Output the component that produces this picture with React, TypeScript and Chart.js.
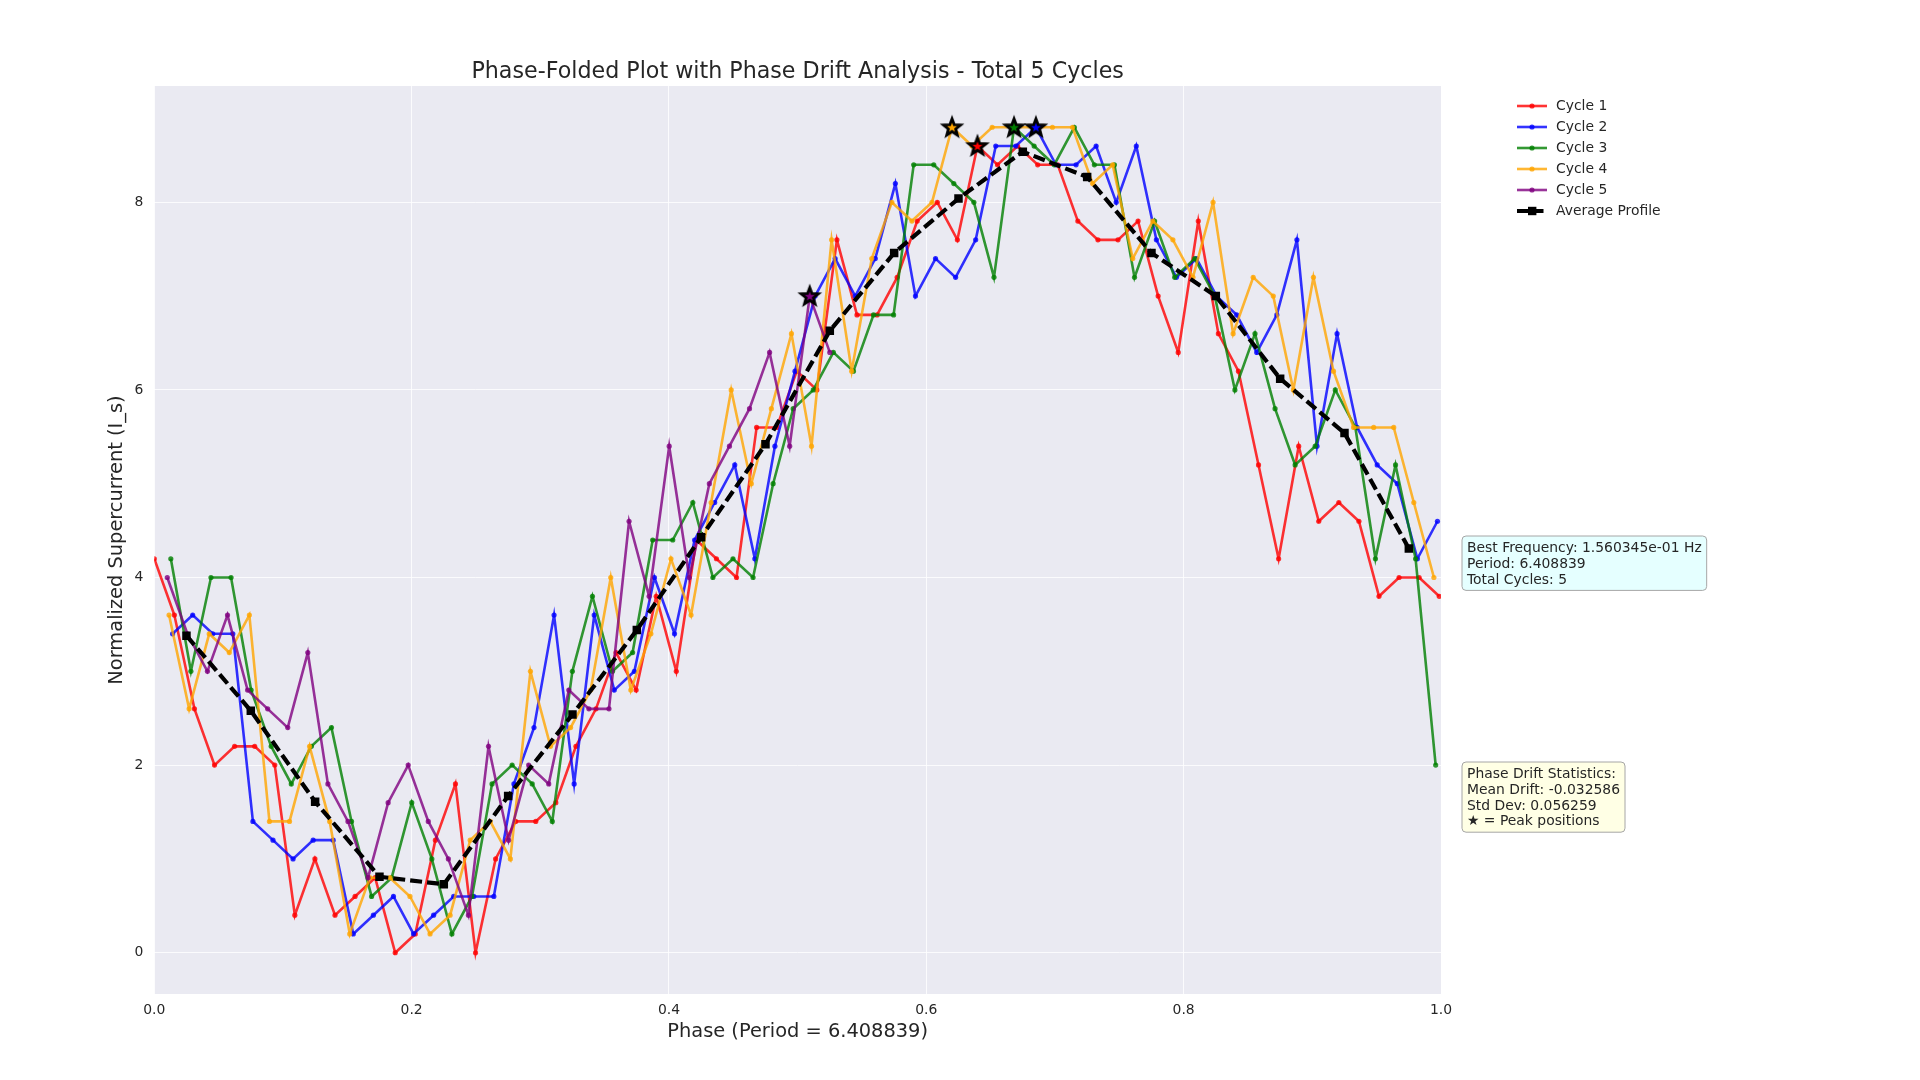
import React, { useEffect, useRef } from 'react';
import Chart from 'chart.js/auto';

// sampling of the raw signal; the chart folds it by the best period
const PERIOD = 6.408839;
const SAMPLE_DT = 0.1;
const cycleStartIndex = [0, 65, 129, 193, 257];

const cycle1 = [
  4.2, 3.6, 2.6, 2.0, 2.2, 2.2, 2.0, 0.4, 1.0, 0.4,
  0.6, 0.8, 0.0, 0.2, 1.2, 1.8, 0.0, 1.0, 1.4, 1.4,
  1.6, 2.2, 2.6, 3.2, 2.8, 3.8, 3.0, 4.4, 4.2, 4.0,
  5.6, 5.6, 6.2, 6.0, 7.6, 6.8, 6.8, 7.2, 7.8, 8.0,
  7.6, 8.6, 8.4, 8.6, 8.4, 8.4, 7.8, 7.6, 7.6, 7.8,
  7.0, 6.4, 7.8, 6.6, 6.2, 5.2, 4.2, 5.4, 4.6, 4.8,
  4.6, 3.8, 4.0, 4.0, 3.8,
];
const cycle2 = [
  3.4, 3.6, 3.4, 3.4, 1.4, 1.2, 1.0, 1.2, 1.2, 0.2,
  0.4, 0.6, 0.2, 0.4, 0.6, 0.6, 0.6, 1.8, 2.4, 3.6,
  1.8, 3.6, 2.8, 3.0, 4.0, 3.4, 4.4, 4.8, 5.2, 4.2,
  5.4, 6.2, 7.0, 7.4, 7.0, 7.4, 8.2, 7.0, 7.4, 7.2,
  7.6, 8.6, 8.6, 8.8, 8.4, 8.4, 8.6, 8.0, 8.6, 7.6,
  7.2, 7.4, 7.0, 6.8, 6.4, 6.8, 7.6, 5.4, 6.6, 5.6,
  5.2, 5.0, 4.2, 4.6,
];
const cycle3 = [
  4.2, 3.0, 4.0, 4.0, 2.8, 2.2, 1.8, 2.2, 2.4, 1.4,
  0.6, 0.8, 1.6, 1.0, 0.2, 0.6, 1.8, 2.0, 1.8, 1.4,
  3.0, 3.8, 3.0, 3.2, 4.4, 4.4, 4.8, 4.0, 4.2, 4.0,
  5.0, 5.8, 6.0, 6.4, 6.2, 6.8, 6.8, 8.4, 8.4, 8.2,
  8.0, 7.2, 8.8, 8.6, 8.4, 8.8, 8.4, 8.4, 7.2, 7.8,
  7.2, 7.4, 7.0, 6.0, 6.6, 5.8, 5.2, 5.4, 6.0, 5.6,
  4.2, 5.2, 4.2, 2.0,
];
const cycle4 = [
  3.6, 2.6, 3.4, 3.2, 3.6, 1.4, 1.4, 2.2, 1.4, 0.2,
  0.8, 0.8, 0.6, 0.2, 0.4, 1.2, 1.4, 1.0, 3.0, 2.2,
  2.4, 2.8, 4.0, 2.8, 3.4, 4.2, 3.6, 4.8, 6.0, 5.0,
  5.8, 6.6, 5.4, 7.6, 6.2, 7.4, 8.0, 7.8, 8.0, 8.8,
  8.6, 8.8, 8.8, 8.8, 8.8, 8.8, 8.2, 8.4, 7.4, 7.8,
  7.6, 7.2, 8.0, 6.6, 7.2, 7.0, 6.0, 7.2, 6.2, 5.6,
  5.6, 5.6, 4.8, 4.0,
];
const cycle5 = [
  4.0, 3.4, 3.0, 3.6, 2.8, 2.6, 2.4, 3.2, 1.8, 1.4,
  0.8, 1.6, 2.0, 1.4, 1.0, 0.4, 2.2, 1.2, 2.0, 1.8,
  2.8, 2.6, 2.6, 4.6, 3.8, 5.4, 4.0, 5.0, 5.4, 5.8,
  6.4, 5.4, 7.0, 6.4,
];

const avgPhase = [
  0.025, 0.075, 0.125, 0.175, 0.225, 0.275, 0.325, 0.375, 0.425, 0.475,
  0.525, 0.575, 0.625, 0.675, 0.725, 0.775, 0.825, 0.875, 0.925, 0.975,
];
const avgValue = [
  3.38, 2.58, 1.61, 0.81, 0.73, 1.67, 2.54, 3.44, 4.43, 5.42,
  6.63, 7.46, 8.04, 8.54, 8.27, 7.46, 7.0, 6.12, 5.54, 4.31,
];

const cycleLabels = ['Cycle 1', 'Cycle 2', 'Cycle 3', 'Cycle 4', 'Cycle 5'];
const cycleColors = [
  'rgba(255, 0, 0, 0.8)',
  'rgba(0, 0, 255, 0.8)',
  'rgba(0, 128, 0, 0.8)',
  'rgba(255, 165, 0, 0.8)',
  'rgba(128, 0, 128, 0.8)',
];
const peakColors = ['#ff0000', '#0000ff', '#008000', '#ffa500', '#800080'];

const xTicks = [0, 0.2, 0.4, 0.6, 0.8, 1.0];
const yTicks = [0, 2, 4, 6, 8];

const titleText = 'Phase-Folded Plot with Phase Drift Analysis - Total 5 Cycles';
const xTitle = 'Phase (Period = 6.408839)';
const yTitle = 'Normalized Supercurrent (I_s)';
const infoLines = ['Best Frequency: 1.560345e-01 Hz', 'Period: 6.408839', 'Total Cycles: 5'];
const driftLines = ['Phase Drift Statistics:', 'Mean Drift: -0.032586', 'Std Dev: 0.056259', '\u2605 = Peak positions'];

const FONT = '"DejaVu Sans", sans-serif';
const TEXT = '#262626';

const allCycles = [cycle1, cycle2, cycle3, cycle4, cycle5];

// fold each cycle's samples onto phase 0..1
const foldCycle = (values: number[], start: number) =>
  values.map((v, i) => {
    const c = ((start + i) * SAMPLE_DT) / PERIOD;
    return { x: c - Math.floor(c), y: v };
  });

const makeStar = (fill: string) => {
  const c = document.createElement('canvas');
  c.width = 26;
  c.height = 26;
  const g = c.getContext('2d')!;
  g.beginPath();
  for (let i = 0; i < 10; i++) {
    const r = i % 2 === 0 ? 9 : 3.8;
    const a = -Math.PI / 2 + (i * Math.PI) / 5;
    g.lineTo(13 + r * Math.cos(a), 13.5 + r * Math.sin(a));
  }
  g.closePath();
  g.fillStyle = fill;
  g.fill();
  g.lineWidth = 2.8;
  g.strokeStyle = '#000';
  g.stroke();
  return c;
};

const drawBox = (ctx: CanvasRenderingContext2D, lines: string[], x: number, top: number, fill: string) => {
  const lh = 15.8;
  ctx.font = `13.9px ${FONT}`;
  const w = Math.max(...lines.map((l) => ctx.measureText(l).width)) + 10;
  const h = lines.length * lh + 7;
  ctx.beginPath();
  ctx.roundRect(x, top, w, h, 4);
  ctx.fillStyle = fill;
  ctx.fill();
  ctx.lineWidth = 1;
  ctx.strokeStyle = '#a6a6a6';
  ctx.stroke();
  ctx.fillStyle = TEXT;
  ctx.textAlign = 'left';
  ctx.textBaseline = 'middle';
  lines.forEach((l, i) => ctx.fillText(l, x + 5, top + 4 + lh / 2 + i * lh + 0.5));
};

const decorPlugin = {
  id: 'decor',
  beforeDraw(chart: any) {
    const { ctx, chartArea: a } = chart;
    ctx.save();
    ctx.fillStyle = '#EAEAF2';
    ctx.fillRect(a.left, a.top, a.right - a.left, a.bottom - a.top);
    ctx.restore();
  },
  afterDraw(chart: any) {
    const { ctx, chartArea: a } = chart;
    ctx.save();
    // title
    ctx.fillStyle = TEXT;
    ctx.font = `22.2px ${FONT}`;
    ctx.textAlign = 'center';
    ctx.textBaseline = 'middle';
    ctx.fillText(titleText, (a.left + a.right) / 2, 72.5);

    // legend
    const lx = a.right + 76;
    const rows = [...cycleLabels, 'Average Profile'];
    rows.forEach((label, i) => {
      const y = a.top + 20 + i * 21;
      if (i < 5) {
        ctx.strokeStyle = cycleColors[i];
        ctx.lineWidth = 2.6;
        ctx.setLineDash([]);
        ctx.beginPath();
        ctx.moveTo(lx, y);
        ctx.lineTo(lx + 30, y);
        ctx.stroke();
        ctx.fillStyle = cycleColors[i];
        ctx.beginPath();
        ctx.arc(lx + 15, y, 2.6, 0, Math.PI * 2);
        ctx.fill();
      } else {
        ctx.strokeStyle = '#000';
        ctx.lineWidth = 4;
        ctx.setLineDash([11, 4.5]);
        ctx.beginPath();
        ctx.moveTo(lx, y);
        ctx.lineTo(lx + 30, y);
        ctx.stroke();
        ctx.setLineDash([]);
        ctx.fillStyle = '#000';
        ctx.fillRect(lx + 11, y - 4.2, 8.4, 8.4);
      }
      ctx.fillStyle = TEXT;
      ctx.font = `13.9px ${FONT}`;
      ctx.textAlign = 'left';
      ctx.textBaseline = 'middle';
      ctx.fillText(label, lx + 39, y + 0.5);
    });

    // annotation boxes
    drawBox(ctx, infoLines, a.right + 21, 536, 'rgba(224, 255, 255, 0.85)');
    drawBox(ctx, driftLines, a.right + 21, 762, 'rgba(255, 255, 224, 0.85)');
    ctx.restore();
  },
};

const App: React.FC = () => {
  const canvasRef = useRef<HTMLCanvasElement>(null);

  useEffect(() => {
    if (!canvasRef.current) return;

    const folded = allCycles.map((vals, i) => foldCycle(vals, cycleStartIndex[i]));
    const peaks = folded.map((pts) =>
      pts.reduce((best, p) => (p.y > best.y ? p : best), pts[0])
    );
    const starImages = peakColors.map(makeStar);

    const cycleSets = folded.map((pts, i) => ({
      label: cycleLabels[i],
      data: pts,
      showLine: true,
      borderColor: cycleColors[i],
      backgroundColor: cycleColors[i],
      borderWidth: 2.6,
      pointRadius: 2.6,
      pointBorderWidth: 0,
      pointHoverRadius: 2.6,
      order: 6 - i,
    }));

    const chart = new Chart(canvasRef.current, {
      type: 'scatter',
      data: {
        datasets: [
          {
            label: 'Peaks',
            data: peaks,
            pointStyle: (ctx: any) => starImages[ctx.dataIndex],
            pointRadius: 9,
            order: 0,
          } as any,
          {
            label: 'Average Profile',
            data: avgPhase.map((x, i) => ({ x, y: avgValue[i] })),
            showLine: true,
            borderColor: '#000',
            backgroundColor: '#000',
            borderWidth: 4.2,
            borderDash: [12, 5],
            pointStyle: 'rect',
            pointRadius: 6,
            pointBorderWidth: 0,
            order: 1,
          },
          ...cycleSets,
        ],
      },
      options: {
        responsive: false,
        animation: false,
        events: [],
        layout: { padding: { left: 100, right: 479, top: 86, bottom: 30 } },
        plugins: {
          legend: { display: false },
          tooltip: { enabled: false },
          title: { display: false },
        },
        scales: {
          x: {
            type: 'linear',
            min: 0,
            max: 1,
            afterBuildTicks: (axis: any) => {
              axis.ticks = xTicks.map((value) => ({ value }));
            },
            afterFit: (scale: any) => {
              scale.height = 56;
            },
            ticks: {
              callback: (v: any) => Number(v).toFixed(1),
              font: { family: FONT, size: 13.9 },
              color: TEXT,
              padding: 8,
              maxRotation: 0,
            },
            grid: { color: 'rgba(255, 255, 255, 0.8)', lineWidth: 1, drawTicks: false },
            border: { display: false },
            title: {
              display: true,
              text: xTitle,
              font: { family: FONT, size: 19.4 },
              color: TEXT,
              padding: { top: 0, bottom: 6 },
            },
          },
          y: {
            type: 'linear',
            min: -0.44,
            max: 9.24,
            afterBuildTicks: (axis: any) => {
              axis.ticks = yTicks.map((value) => ({ value }));
            },
            afterFit: (scale: any) => {
              scale.width = 54.3;
            },
            ticks: {
              callback: (v: any) => String(v),
              font: { family: FONT, size: 13.9 },
              color: TEXT,
              padding: 11,
            },
            grid: { color: 'rgba(255, 255, 255, 0.8)', lineWidth: 1, drawTicks: false },
            border: { display: false },
            title: {
              display: true,
              text: yTitle,
              font: { family: FONT, size: 19.4 },
              color: TEXT,
              padding: { top: 5, bottom: 0 },
            },
          },
        },
      },
      plugins: [decorPlugin],
    });

    return () => {
      chart.destroy();
    };
  }, []);

  return (
    <div style={{ position: 'absolute', left: 0, top: 0, width: 1920, height: 1080, background: '#ffffff' }}>
      <canvas ref={canvasRef} width={1920} height={1080}></canvas>
    </div>
  );
};

export default App;
